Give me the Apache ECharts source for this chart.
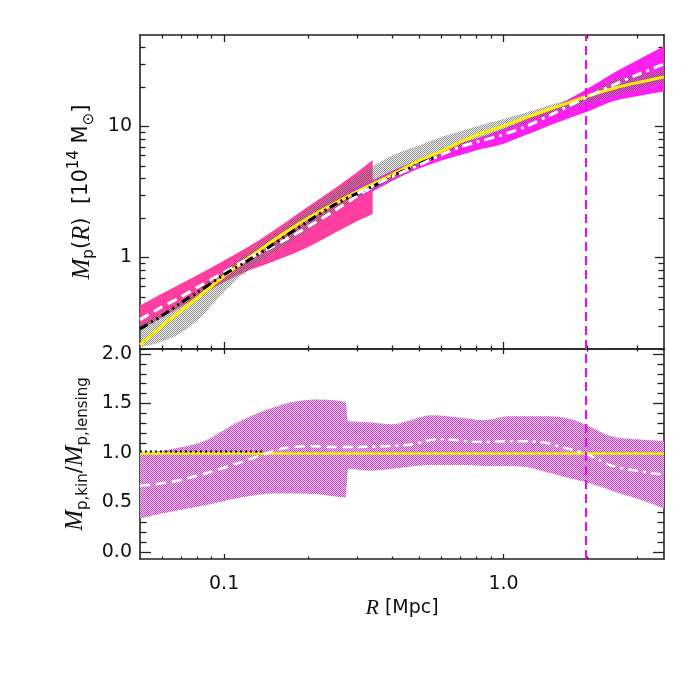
<!DOCTYPE html>
<html>
<head>
<meta charset="utf-8">
<script src="https://cdn.jsdelivr.net/npm/echarts@6/dist/echarts.min.js"></script>
<style>
  html, body { margin: 0; padding: 0; background: #fff; }
  #main { width: 700px; height: 700px; }
</style>
</head>
<body>
<div id="main"></div>
<script>
// ---- top panel: projected mass profiles (10^14 Msun) ----
const xTop = [0.05, 0.06, 0.07, 0.08, 0.1, 0.12, 0.15, 0.2, 0.25, 0.3, 0.4, 0.5, 0.6, 0.7, 0.8, 1.0, 1.2, 1.5, 2.0, 2.5, 3.0, 3.75];
const lensFit = [0.215, 0.30, 0.39, 0.49, 0.72, 0.96, 1.35, 2.0, 2.6, 3.2, 4.3, 5.5, 6.5, 7.6, 8.6, 10.1, 11.7, 13.8, 17.1, 19.7, 21.6, 23.9];
const lensLo = [0.205, 0.228, 0.265, 0.33, 0.55, 0.78, 1.08, 1.6, 2.25, 2.85, 3.9, 5.0, 6.0, 7.0, 7.9, 9.3, 10.7, 12.6, 15.0, 17.2, 19.2, 21.5];
const lensHi = [0.31, 0.38, 0.46, 0.55, 0.8, 1.08, 1.5, 2.35, 3.25, 4.2, 6.0, 7.2, 8.3, 9.2, 10.0, 11.4, 12.8, 14.8, 17.8, 23.0, 24.8, 27.0];

const xInner = [0.05, 0.06, 0.07, 0.08, 0.1, 0.12, 0.15, 0.2, 0.25, 0.3, 0.34];
const innerLo = [0.28, 0.35, 0.42, 0.5, 0.65, 0.78, 0.93, 1.2, 1.55, 1.9, 2.15];
const innerHi = [0.43, 0.53, 0.63, 0.73, 0.95, 1.18, 1.6, 2.45, 3.4, 4.5, 5.55];
const innerMid = [0.335, 0.42, 0.5, 0.59, 0.77, 0.96, 1.22, 1.72, 2.3, 2.95, 3.45];

const xBlack = [0.05, 0.06, 0.07, 0.08, 0.1, 0.12, 0.15, 0.2, 0.25, 0.3, 0.35, 0.4, 0.45, 0.5, 0.56];
const blackProf = [0.285, 0.36, 0.45, 0.54, 0.74, 0.93, 1.26, 1.9, 2.55, 3.1, 3.6, 4.2, 4.7, 5.2, 5.75];

const xOuter = [0.28, 0.35, 0.4, 0.5, 0.6, 0.7, 0.8, 1.0, 1.2, 1.5, 2.0, 2.5, 3.0, 3.75];
const outerLo = [2.7, 3.3, 3.85, 4.8, 5.5, 6.05, 6.6, 7.4, 8.6, 10.4, 13.0, 15.7, 17.0, 18.5];
const outerHi = [3.3, 4.0, 4.6, 5.6, 6.6, 7.5, 8.1, 9.6, 11.3, 14.0, 19.5, 26.0, 32.0, 41.0];

const xOuterMid = [0.3, 0.4, 0.5, 0.6, 0.7, 0.8, 1.0, 1.2, 1.5, 2.0, 2.5, 3.0, 3.75];
const outerMid = [3.1, 4.15, 5.1, 6.1, 7.0, 7.6, 8.7, 10.0, 12.5, 16.9, 21.0, 24.8, 30.0];

// ---- bottom panel: kinematic / lensing ratio ----
const xRatio = [0.05, 0.065, 0.085, 0.11, 0.15, 0.18, 0.22, 0.25, 0.272, 0.278, 0.33, 0.4, 0.45, 0.55, 0.73, 0.85, 1.05, 1.2, 1.45, 1.75, 1.95, 2.5, 3.0, 3.75];
const ratioLo = [0.34, 0.41, 0.47, 0.54, 0.59, 0.59, 0.58, 0.56, 0.55, 0.84, 0.82, 0.84, 0.86, 0.88, 0.88, 0.87, 0.87, 0.86, 0.80, 0.74, 0.71, 0.61, 0.54, 0.44];
const ratioHi = [0.99, 1.04, 1.12, 1.30, 1.46, 1.52, 1.54, 1.53, 1.51, 1.32, 1.31, 1.29, 1.32, 1.38, 1.35, 1.33, 1.37, 1.37, 1.37, 1.34, 1.29, 1.16, 1.14, 1.12];

const xRatioIn = [0.05, 0.065, 0.085, 0.11, 0.14, 0.165, 0.2, 0.25, 0.3];
const ratioIn = [0.67, 0.71, 0.79, 0.89, 0.99, 1.05, 1.07, 1.06, 1.06];
const xRatioOut = [0.3, 0.45, 0.59, 0.84, 1.08, 1.36, 1.66, 1.94, 2.45, 3.0, 3.75];
const ratioOut = [1.06, 1.08, 1.14, 1.11, 1.12, 1.11, 1.05, 1.00, 0.87, 0.82, 0.78];

const xFlat = [0.05, 3.75];
const ratioFit = [0.995, 0.995];
const xRef = [0.05, 0.14];
const ratioRef = [1.015, 1.015];

const rVir = 1.96;

// ---- ticks ----
const xMajor = [0.1, 1];
const xMinor = [0.06, 0.07, 0.08, 0.09, 0.2, 0.3, 0.4, 0.5, 0.6, 0.7, 0.8, 0.9, 2, 3];
const yTopMajor = [1, 10];
const yTopMinor = [0.2, 0.3, 0.4, 0.5, 0.6, 0.7, 0.8, 0.9, 2, 3, 4, 5, 6, 7, 8, 9, 20, 30, 40];
const yBotMajor = [0, 0.5, 1, 1.5, 2];
const yBotMinor = [0.1, 0.2, 0.3, 0.4, 0.6, 0.7, 0.8, 0.9, 1.1, 1.2, 1.3, 1.4, 1.6, 1.7, 1.8, 1.9];

var chartDom = document.getElementById('main');
var myChart = echarts.init(chartDom);

function pattern(dark, light) {
  const c = document.createElement('canvas');
  c.width = 2; c.height = 2;
  const g = c.getContext('2d');
  g.fillStyle = light;
  g.fillRect(1, 0, 1, 1);
  g.fillRect(0, 1, 1, 1);
  g.fillStyle = dark;
  g.fillRect(0, 0, 1, 1);
  g.fillRect(1, 1, 1, 1);
  return { type: 'pattern', image: c, repeat: 'repeat', repetition: 'repeat' };
}

const axisColor = '#222';
const labelFont = { fontFamily: 'DejaVu Sans', fontSize: 19, color: '#111' };

function xAxes(gridIndex, majLen, minLen, withLabels) {
  const out = [];
  ['bottom', 'top'].forEach(pos => {
    [true, false].forEach(major => {
      out.push({
        type: 'log', logBase: 10, gridIndex: gridIndex, position: pos,
        min: 0.05, max: 3.75,
        axisLine: { show: major, onZero: false, lineStyle: { color: axisColor, width: 1.6 } },
        splitLine: { show: false },
        axisTick: {
          show: true, inside: true, length: major ? majLen : minLen,
          customValues: major ? xMajor : xMinor,
          lineStyle: { color: axisColor, width: 1.3 }
        },
        axisLabel: withLabels && major && pos === 'bottom' ? Object.assign({
          show: true, margin: 16, customValues: xMajor,
          formatter: v => Number(v).toFixed(1)
        }, labelFont) : { show: false }
      });
    });
  });
  return out;
}

function yAxes(gridIndex, type, min, max, majVals, minVals, majLen, minLen, fmt, name) {
  const out = [];
  ['left', 'right'].forEach(pos => {
    [true, false].forEach(major => {
      const ax = {
        type: type, gridIndex: gridIndex, position: pos, min: min, max: max,
        axisLine: { show: major, onZero: false, lineStyle: { color: axisColor, width: 1.6 } },
        splitLine: { show: false },
        axisTick: {
          show: true, inside: true, length: major ? majLen : minLen,
          customValues: major ? majVals : minVals,
          lineStyle: { color: axisColor, width: 1.3 }
        },
        axisLabel: major && pos === 'left' ? Object.assign({
          show: true, margin: 8, customValues: majVals, formatter: fmt
        }, labelFont) : { show: false }
      };
      if (type === 'log') ax.logBase = 10;
      if (major && pos === 'left') Object.assign(ax, name);
      out.push(ax);
    });
  });
  return out;
}

const richName = {
  it: { fontFamily: 'Liberation Serif', fontStyle: 'italic', fontSize: 25, lineHeight: 30, verticalAlign: 'middle' },
  rm: { fontFamily: 'DejaVu Sans', fontSize: 21, lineHeight: 30, verticalAlign: 'middle' },
  sub: { fontFamily: 'DejaVu Sans', fontSize: 15, lineHeight: 15, verticalAlign: 'bottom' },
  sup: { fontFamily: 'DejaVu Sans', fontSize: 15, lineHeight: 15, verticalAlign: 'top' }
};

const topName = {
  name: '{it|M}{sub|p}{rm|(}{it|R}{rm|)  [10}{sup|14}{rm| M}{sub|\u2299}{rm|]}',
  nameLocation: 'middle', nameRotate: 90, nameGap: 42,
  nameTextStyle: { color: '#111', rich: richName }
};
const botName = {
  name: '{it|M}{sub|p,kin}{rm|/}{it|M}{sub|p,lensing}',
  nameLocation: 'middle', nameRotate: 90, nameGap: 42,
  nameTextStyle: { color: '#111', rich: richName }
};

// monotone cubic through pixel points (x increasing), as bezier segments
function monoSegs(pts) {
  const n = pts.length, segs = [];
  if (n < 2) return segs;
  const h = [], s = [], m = [];
  for (let i = 0; i < n - 1; i++) {
    h.push(pts[i + 1][0] - pts[i][0]);
    s.push(h[i] ? (pts[i + 1][1] - pts[i][1]) / h[i] : 0);
  }
  for (let i = 1; i < n - 1; i++) {
    const p = (s[i - 1] * h[i] + s[i] * h[i - 1]) / (h[i - 1] + h[i]);
    m[i] = (Math.sign(s[i - 1]) + Math.sign(s[i])) *
      Math.min(Math.abs(s[i - 1]), Math.abs(s[i]), 0.5 * Math.abs(p)) || 0;
  }
  m[0] = n > 2 ? (3 * s[0] - m[1]) / 2 : s[0];
  m[n - 1] = n > 2 ? (3 * s[n - 2] - m[n - 2]) / 2 : s[0];
  for (let i = 0; i < n - 1; i++) {
    const d = h[i] / 3;
    segs.push([pts[i],
      [pts[i][0] + d, pts[i][1] + m[i] * d],
      [pts[i + 1][0] - d, pts[i + 1][1] - m[i + 1] * d],
      pts[i + 1]]);
  }
  return segs;
}

const series = [];
function band(xs, lo, hi, fill, xi, yi) {
  series.push({
    type: 'custom', xAxisIndex: xi, yAxisIndex: yi, silent: true, clip: true,
    data: xs.map((x, i) => [x, lo[i], hi[i]]),
    encode: { x: 0, y: [1, 2] },
    renderItem: function (params, api) {
      if (params.dataIndex !== 0) return null;
      const up = xs.map((x, i) => api.coord([x, hi[i]]));
      const dn = xs.map((x, i) => api.coord([x, lo[i]]));
      const su = monoSegs(up), sd = monoSegs(dn);
      let d = 'M' + up[0][0] + ' ' + up[0][1];
      su.forEach(g => { d += ' C' + g[1].join(' ') + ' ' + g[2].join(' ') + ' ' + g[3].join(' '); });
      d += ' L' + dn[dn.length - 1].join(' ');
      for (let k = sd.length - 1; k >= 0; k--) {
        const g = sd[k];
        d += ' C' + g[2].join(' ') + ' ' + g[1].join(' ') + ' ' + g[0].join(' ');
      }
      d += ' Z';
      return { type: 'path', shape: { pathData: d }, style: { fill: fill, stroke: null } };
    }
  });
}
function curve(xs, ys, color, width, dash, xi, yi) {
  const s = {
    type: 'line', xAxisIndex: xi, yAxisIndex: yi, silent: true,
    data: xs.map((x, i) => [x, ys[i]]), symbol: 'none', smooth: 0.3,
    lineStyle: { color: color, width: width, type: dash }
  };
  series.push(s);
  return s;
}
const vLine = {
  silent: true, symbol: 'none', label: { show: false },
  lineStyle: { color: '#FF00FF', width: 2, type: [9, 5] },
  data: [{ xAxis: rVir }]
};

// top panel (x axis 0, y axis 0)
band(xInner, innerLo, innerHi, '#FF3FA0', 0, 0);
band(xOuter, outerLo, outerHi, '#FF1FF0', 0, 0);
band(xTop, lensLo, lensHi, pattern('rgba(80,80,80,0.62)', 'rgba(200,200,200,0.3)'), 0, 0);
curve(xTop, lensFit, '#FFF000', 3, 'solid', 0, 0);
curve(xInner, innerMid, '#FFFFFF', 3, [10, 6], 0, 0);
curve(xBlack, blackProf, '#000000', 3, [9, 4, 2, 4, 2, 4], 0, 0);
curve(xOuterMid, outerMid, '#FFFFFF', 3, [10, 5, 3, 5], 0, 0).markLine = vLine;

// bottom panel (x axis 4, y axis 4)
band(xRatio, ratioLo, ratioHi, pattern('#C444C4', '#F4CCF4'), 4, 4);
curve(xFlat, ratioFit, '#FFF000', 2.5, 'solid', 4, 4);
curve(xRef, ratioRef, '#000000', 2, [2, 3], 4, 4);
curve(xRatioIn, ratioIn, '#FFFFFF', 2.5, [10, 6], 4, 4);
curve(xRatioOut, ratioOut, '#FFFFFF', 2.5, [10, 5, 3, 5], 4, 4).markLine = vLine;

var option = {
  animation: false,
  backgroundColor: '#fff',
  grid: [
    { left: 140, right: 36, top: 35, height: 314 },
    { left: 140, right: 36, top: 349, height: 210 }
  ],
  xAxis: [].concat(xAxes(0, 7, 3.5, false), xAxes(1, 5, 2.5, true)),
  yAxis: [].concat(
    yAxes(0, 'log', 0.2, 50, yTopMajor, yTopMinor, 9, 5.5, v => String(Number(v)), topName),
    yAxes(1, 'value', -0.07, 2.05, yBotMajor, yBotMinor, 11, 6.5, v => Number(v).toFixed(1), botName)
  ),
  series: series
};
option.xAxis[4].name = '{it|R} [Mpc]';
option.xAxis[4].nameLocation = 'middle';
option.xAxis[4].nameGap = 38;
option.xAxis[4].nameTextStyle = { fontFamily: 'DejaVu Sans', fontSize: 19, color: '#111', rich: { it: { fontFamily: 'Liberation Serif', fontStyle: 'italic', fontSize: 22 } } };

option && myChart.setOption(option);
</script>
</body>
</html>
